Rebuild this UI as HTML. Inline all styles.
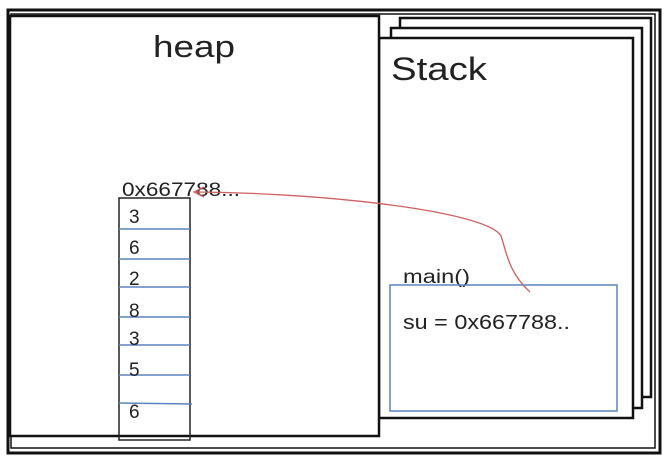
<!DOCTYPE html>
<html><head><meta charset="utf-8"><style>
html,body{margin:0;padding:0;background:#fff;}
body{width:668px;height:464px;overflow:hidden;}
svg text{font-family:"Liberation Sans",sans-serif;fill:#222;}
</style></head><body>
<svg width="668" height="464" viewBox="0 0 668 464">
<rect x="8" y="10" width="652" height="443" fill="none" stroke="#111" stroke-width="3"/>
<rect x="11" y="14" width="644" height="434" fill="none" stroke="#111" stroke-width="1.5"/>
<rect x="400" y="18" width="251" height="379" fill="#fff" stroke="#111" stroke-width="2.5"/>
<rect x="391" y="28" width="251" height="380" fill="#fff" stroke="#111" stroke-width="2.5"/>
<rect x="379" y="38" width="254" height="380" fill="#fff" stroke="#111" stroke-width="2.5"/>
<rect x="10" y="16" width="369" height="420" fill="#fff" stroke="#111" stroke-width="2.5"/>
<text x="153" y="57" font-size="31" textLength="82" lengthAdjust="spacingAndGlyphs">heap</text>
<text x="391" y="80" font-size="32" textLength="96" lengthAdjust="spacingAndGlyphs">Stack</text>
<rect x="119" y="198" width="71" height="242" fill="none" stroke="#222" stroke-width="1.5"/>
<g stroke="#5b84c0" stroke-width="1.5">
<line x1="119" y1="229" x2="190" y2="229"/><line x1="119" y1="259" x2="190" y2="259"/>
<line x1="119" y1="287" x2="190" y2="287"/><line x1="119" y1="317" x2="190" y2="317"/>
<line x1="119" y1="345" x2="190" y2="345"/><line x1="119" y1="375" x2="190" y2="375"/>
<line x1="119" y1="403" x2="192" y2="404"/>
</g>
<g font-size="19">
<text x="129" y="223">3</text><text x="129" y="254">6</text><text x="129" y="285">2</text>
<text x="129" y="317">8</text><text x="129" y="345">3</text><text x="129" y="376">5</text><text x="129" y="418">6</text>
</g>
<text x="122" y="196" font-size="19" textLength="118" lengthAdjust="spacingAndGlyphs">0x667788...</text>
<text x="403" y="283" font-size="19" textLength="67" lengthAdjust="spacingAndGlyphs">main()</text>
<rect x="390" y="285" width="227" height="126" fill="none" stroke="#5b84c0" stroke-width="1.5"/>
<text x="403" y="329" font-size="20" textLength="167" lengthAdjust="spacingAndGlyphs">su = 0x667788..</text>
<path d="M530,292 C508,272 506,250 501,236 C488,212 330,193 196,192" fill="none" stroke="#d06060" stroke-width="1.3"/>
<path d="M204,187 L194,192 L204,197" fill="none" stroke="#d06060" stroke-width="1.3"/>
</svg>
</body></html>
